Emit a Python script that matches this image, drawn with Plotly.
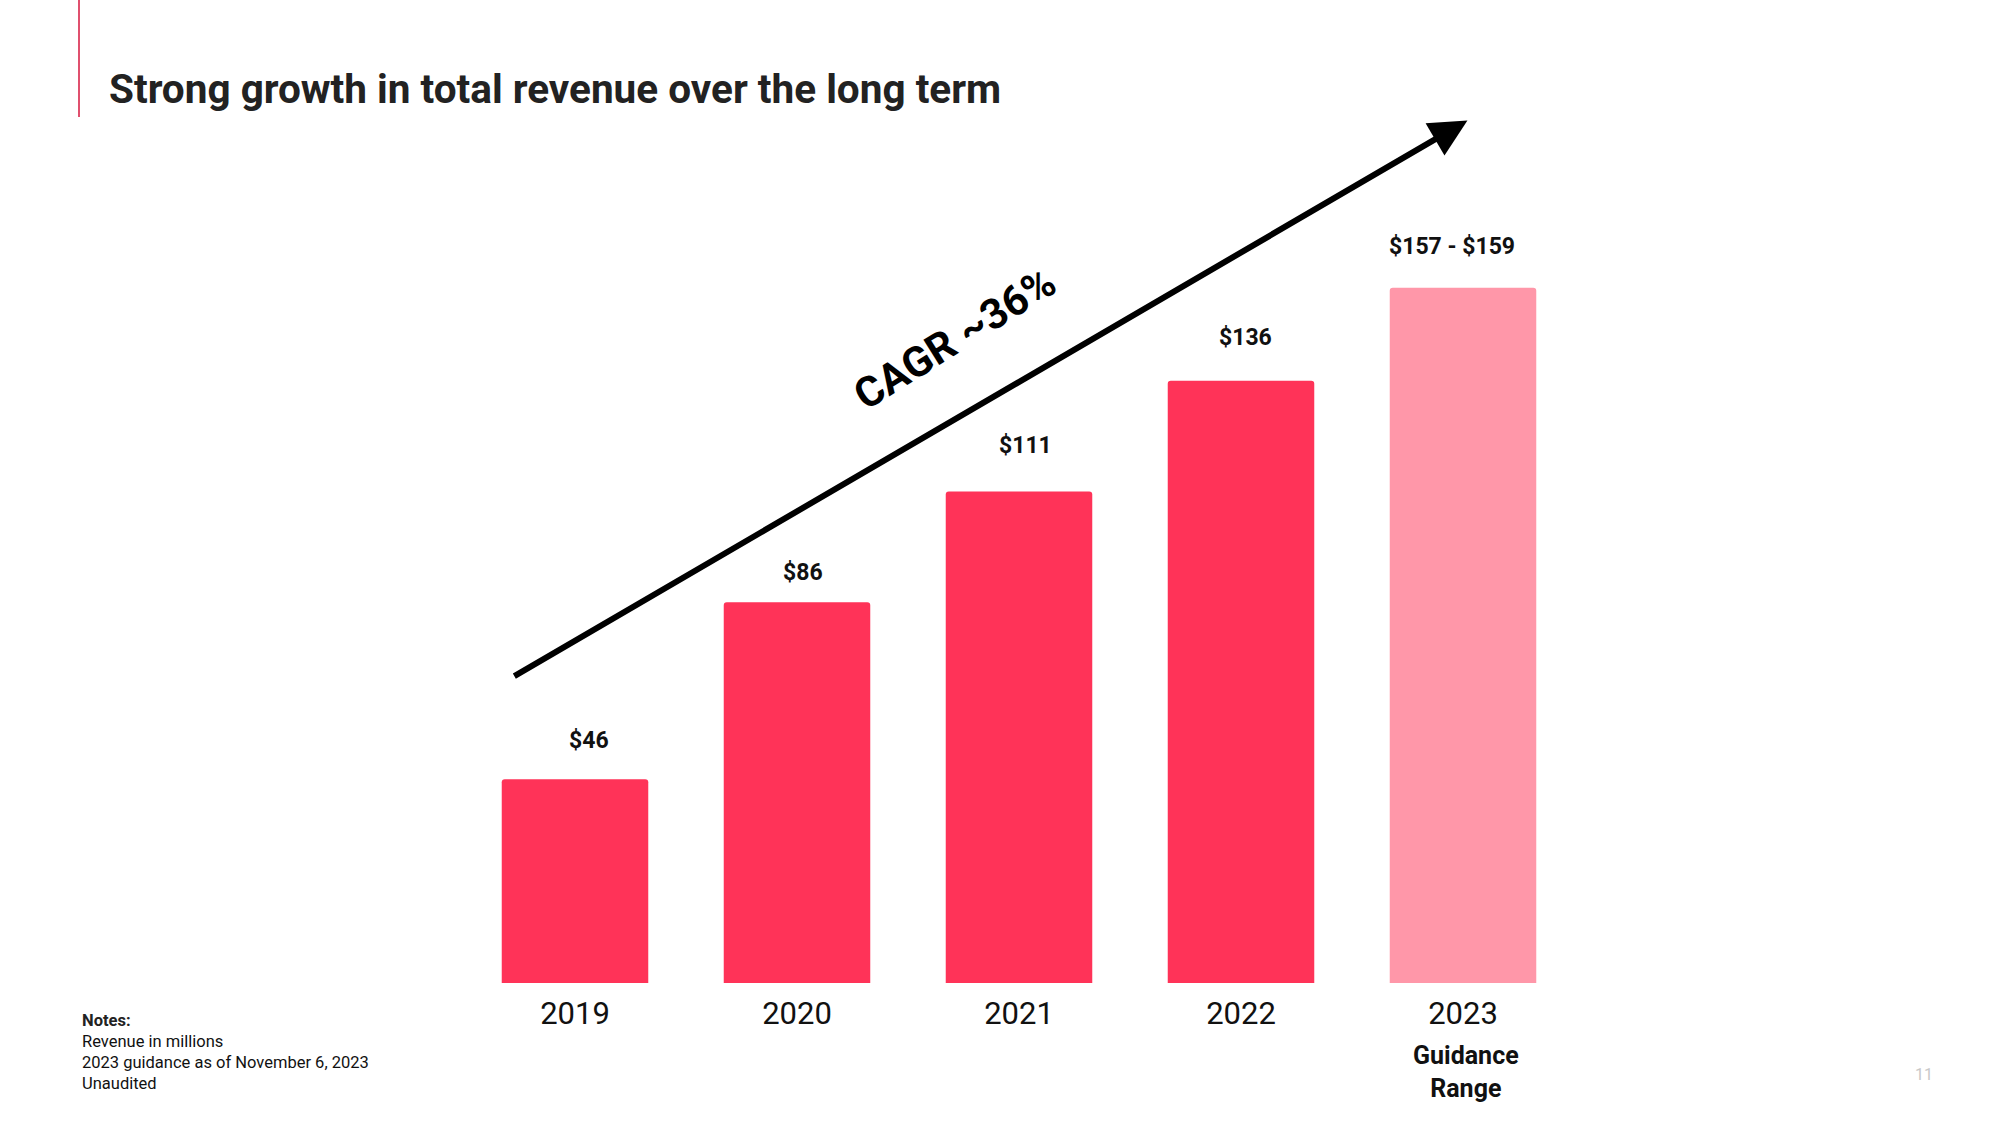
import plotly.graph_objects as go

W, H = 2000, 1125

# ---- data ----
years = ["2019", "2020", "2021", "2022", "2023"]
revenue = [46, 86, 111, 136, 157]
value_labels = ["$46", "$86", "$111", "$136", "$157 - $159"]
bar_colors = ["#FF3358", "#FF3358", "#FF3358", "#FF3358", "#FF97A9"]
cagr_text = "CAGR ~36%"
notes_title = "Notes:"
notes_lines = ["Revenue in millions", "2023 guidance as of November 6, 2023", "Unaudited"]
title_text = "Strong growth in total revenue over the long term"
page_number = "11"

# layout helpers (pixel -> paper fraction, with full-figure paper)
def px(x):
    return x / W

def py(y):
    return 1 - y / H

fig = go.Figure()
fig.add_trace(go.Bar(
    x=years, y=revenue,
    marker=dict(color=bar_colors, cornerradius=3, line=dict(width=0)),
    width=0.66,
    hoverinfo="skip",
))

annotations = []
# value labels above bars
label_xshift = [14, 6, 6, 4, -11]
label_yshift = [39, 30, 46, 43, 41]
for i, (v, t) in enumerate(zip(revenue, value_labels)):
    annotations.append(dict(
        x=i, y=v, xref="x", yref="y", text=f"<b>{t}</b>", showarrow=False,
        yanchor="middle", xanchor="center", yshift=label_yshift[i], xshift=label_xshift[i],
        font=dict(family="Roboto", size=23, color="#111111"),
    ))

# growth arrow
annotations.append(dict(
    x=4.02, y=194.8, xref="x", yref="y",
    ax=-0.28, ay=69.1, axref="x", ayref="y",
    text="", showarrow=True, arrowhead=2, arrowsize=1.25, arrowwidth=6,
    arrowcolor="#000000", standoff=0, startstandoff=0,
))
# CAGR label
annotations.append(dict(
    x=1.71, y=145.5, xref="x", yref="y", text=f"<b>{cagr_text}</b>",
    showarrow=False, textangle=-32,
    font=dict(family="Roboto", size=42, color="#000000"),
))
# Guidance range under 2023
annotations.append(dict(
    x=len(years) - 1, y=0, xref="x", yref="y", text="<b>Guidance<br>Range</b>",
    showarrow=False, yanchor="top", xanchor="center", yshift=-56, xshift=3,
    font=dict(family="Roboto", size=25, color="#111111"),
))
# title
annotations.append(dict(
    x=px(107), y=py(89), xref="paper", yref="paper", text=f"<b>{title_text}</b>",
    showarrow=False, xanchor="left", yanchor="middle",
    font=dict(family="Roboto", size=40.5, color="#222222"),
))
# notes
annotations.append(dict(
    x=px(80), y=py(1020), xref="paper", yref="paper", text=f"<b>{notes_title}</b>",
    showarrow=False, xanchor="left", yanchor="middle",
    font=dict(family="Roboto", size=16.5, color="#222222"),
))
for i, line in enumerate(notes_lines):
    annotations.append(dict(
        x=px(80), y=py(1041 + 21 * i), xref="paper", yref="paper", text=line,
        showarrow=False, xanchor="left", yanchor="middle",
        font=dict(family="Roboto", size=16.5, color="#111111"),
    ))
# page number
annotations.append(dict(
    x=px(1924), y=py(1074), xref="paper", yref="paper", text=page_number,
    showarrow=False, xanchor="center", yanchor="middle",
    font=dict(family="Roboto", size=16, color="#c8c8c8"),
))

fig.update_layout(
    width=W, height=H,
    margin=dict(l=0, r=0, t=0, b=0),
    paper_bgcolor="white", plot_bgcolor="white",
    showlegend=False,
    annotations=annotations,
    shapes=[dict(type="line", xref="paper", yref="paper",
                 x0=px(79), x1=px(79), y0=1, y1=py(117),
                 line=dict(color="#E0506E", width=2))],
    xaxis=dict(
        type="category",
        domain=[px(464), px(1574)], range=[-0.5, 4.5],
        showgrid=False, zeroline=False, showline=False,
        ticks="outside", ticklen=3, tickcolor="rgba(0,0,0,0)",
        tickfont=dict(family="Roboto", size=31, color="#111111"),
    ),
    yaxis=dict(
        domain=[py(983), py(186)], range=[0, 180],
        showgrid=False, zeroline=False, showline=False, showticklabels=False,
    ),
)

fig.write_html(
    "out.html",
    config={"displayModeBar": False},
    post_script="document.body.style.margin='0';document.body.style.padding='0';",
)
